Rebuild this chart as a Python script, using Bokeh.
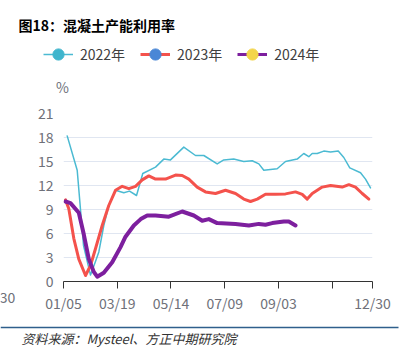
from bokeh.plotting import figure
from bokeh.models import (Range1d, FixedTicker, Label, Legend, LegendItem)
from bokeh.layouts import column, row
from bokeh.embed import file_html
from bokeh.resources import INLINE

# ---------------- data ----------------
tick_pos = [0, 8, 16, 24, 32, 40, 46]
tick_labels = ["01/05", "03/19", "05/14", "07/09", "09/03", "", "12/30"]

x2022 = [0.55, 2.04, 2.98, 4.02, 4.76, 5.26, 6.0, 6.74, 7.74, 8.98, 9.83, 10.87, 11.8, 13.7,
         14.93, 15.93, 17.91, 19.65, 20.89, 22.88, 23.86, 25.35, 26.84, 28.09, 29.08, 29.82,
         31.81, 33.05, 34.79, 35.77, 36.52, 37.02, 37.77, 38.75, 39.75, 40.9, 41.73, 42.62,
         44.22, 44.96, 45.7]
y2022 = [18.2, 13.9, 4.5, 0.8, 2.5, 3.7, 7.0, 9.5, 11.4, 11.1, 11.3, 10.75, 13.5, 14.3,
         15.3, 15.2, 16.8, 15.75, 15.75, 14.7, 15.2, 15.3, 15.0, 15.1, 14.7, 13.9,
         14.1, 15.0, 15.3, 16.0, 15.6, 16.0, 16.0, 16.3, 16.2, 16.3, 15.5, 14.2,
         13.6, 12.8, 11.7]

x2023 = [0.3, 0.79, 1.53, 2.28, 3.28, 4.02, 4.76, 5.76, 6.74, 7.74, 8.74, 9.72, 10.72, 11.72,
         12.7, 13.7, 15.19, 16.68, 17.67, 18.66, 19.9, 21.14, 22.63, 24.12, 25.61, 26.84,
         27.84, 28.84, 30.07, 31.56, 33.05, 34.54, 35.54, 36.28, 37.03, 38.51, 39.75, 41.49,
         42.48, 43.47, 44.47, 45.46]
y2023 = [10.2, 9.1, 5.4, 2.8, 0.75, 2.0, 4.1, 7.0, 9.5, 11.4, 11.9, 11.6, 11.9, 12.7,
         13.2, 12.8, 12.8, 13.3, 13.25, 12.8, 11.8, 11.2, 11.0, 11.4, 11.0, 10.3,
         10.0, 10.3, 10.9, 10.9, 10.95, 11.2, 10.9, 10.3, 11.0, 11.8, 12.0, 11.8,
         12.1, 11.8, 11.0, 10.3]

x2024 = [0.3, 1.04, 2.28, 3.02, 3.77, 4.51, 5.02, 6.0, 7.25, 8.49, 9.23, 10.47, 11.5, 12.46,
         13.7, 15.68, 17.67, 19.4, 20.65, 21.63, 22.88, 25.61, 27.59, 29.08, 30.07, 31.07,
         32.8, 33.54, 34.54]
y2024 = [10.0, 9.8, 8.6, 5.9, 2.8, 1.2, 0.6, 1.1, 2.4, 4.3, 5.6, 7.0, 7.8, 8.25,
         8.25, 8.1, 8.75, 8.25, 7.6, 7.8, 7.3, 7.2, 7.0, 7.2, 7.1, 7.3,
         7.5, 7.5, 7.0]

series_names = ["2022年", "2023年", "2024年"]
line_colors = ["#4BBAD2", "#F4524C", "#7D1F9E"]
marker_colors = ["#3FB5CD", "#4A87D6", "#F3D54A"]
line_widths = [1.5, 3, 4]

FONT = "Noto Sans CJK SC"
GRAY = "#6E7079"


def blank(w, h):
    f = figure(width=w, height=h, output_backend="svg", toolbar_location=None,
               x_range=Range1d(0, w), y_range=Range1d(h, 0),
               x_axis_location=None, y_axis_location=None,
               min_border=0, min_border_left=0, min_border_right=0,
               min_border_top=0, min_border_bottom=0, frame_align=False)
    f.outline_line_color = None
    f.xgrid.grid_line_color = None
    f.ygrid.grid_line_color = None
    return f


# ---------------- header (title, legend, unit) ----------------
head = blank(403, 100)
head.add_layout(Label(x=18, y=24, text="图18：混凝土产能利用率", text_font=FONT,
                      text_font_size="14px", text_font_style="bold", text_color="#000000",
                      text_baseline="middle", text_align="left"))
head.add_layout(Label(x=62, y=86, text="%", text_font=FONT, text_font_size="14px",
                      text_color=GRAY, text_baseline="middle", text_align="center"))
items = []
for name, lc, mc, lw in zip(series_names, line_colors, marker_colors, line_widths):
    # legend proxies: kept outside the visible header range
    lr = head.line([-50, -40], [-50, -50], line_color=lc, line_width=min(lw, 3))
    sr = head.scatter([-50], [-50], marker="circle", size=12, fill_color=mc, line_color=mc)
    items.append(LegendItem(label=name, renderers=[lr, sr]))
legend = Legend(items=items, orientation="horizontal", location=(43, 32),
                glyph_width=30, glyph_height=28, label_standoff=7, spacing=15,
                padding=0, margin=0, border_line_color=None, background_fill_alpha=0,
                label_text_font=FONT, label_text_font_size="14px",
                label_text_color="#404040")
head.add_layout(legend, "center")

# ---------------- left strip (clipped neighbour label) ----------------
strip = blank(20, 220)
strip.add_layout(Label(x=7, y=197, text="30", text_font=FONT, text_font_size="14px",
                       text_color=GRAY, text_baseline="middle", text_align="center"))

# ---------------- main chart ----------------
p = figure(width=383, height=220, output_backend="svg", toolbar_location=None,
           x_range=Range1d(0, 46), y_range=Range1d(0, 21), frame_align=False,
           min_border_left=43, min_border_right=31, min_border_top=13, min_border_bottom=39)
p.outline_line_color = None
p.xgrid.grid_line_color = None
p.ygrid.grid_line_color = "#E0E6F1"
p.ygrid.grid_line_width = 1

p.yaxis.ticker = FixedTicker(ticks=[0, 3, 6, 9, 12, 15, 18, 21])
p.yaxis.axis_line_color = None
p.yaxis.major_tick_line_color = None
p.yaxis.minor_tick_line_color = None
p.yaxis.major_tick_out = 0
p.yaxis.major_tick_in = 0
p.yaxis.major_label_standoff = 10
p.yaxis.major_label_text_font = FONT
p.yaxis.major_label_text_font_size = "14px"
p.yaxis.major_label_text_color = GRAY

p.xaxis.ticker = FixedTicker(ticks=tick_pos)
p.xaxis.major_label_overrides = {t: l for t, l in zip(tick_pos, tick_labels)}
p.xaxis.axis_line_color = "#333333"
p.xaxis.major_tick_line_color = "#333333"
p.xaxis.minor_tick_line_color = None
p.xaxis.major_tick_out = 7
p.xaxis.major_tick_in = 0
p.xaxis.major_label_standoff = 4
p.xaxis.major_label_text_font = FONT
p.xaxis.major_label_text_font_size = "14px"
p.xaxis.major_label_text_color = GRAY

for xv, yv, lc, lw in zip([x2022, x2023, x2024], [y2022, y2023, y2024], line_colors, line_widths):
    p.line(xv, yv, line_color=lc, line_width=lw, line_join="round", line_cap="round")

# ---------------- footer ----------------
foot = blank(403, 35)
foot.line([0, 398], [7, 7], line_color="#2F5F8C", line_width=1.5)
foot.add_layout(Label(x=21, y=18, text="资料来源：Mysteel、方正中期研究院", text_font=FONT,
                      text_font_size="13px", text_font_style="italic", text_color="#333333",
                      text_baseline="middle", text_align="left"))

layout = column(head, row(strip, p, spacing=0), foot, spacing=0)
open("out.html", "w").write(file_html(layout, INLINE))
